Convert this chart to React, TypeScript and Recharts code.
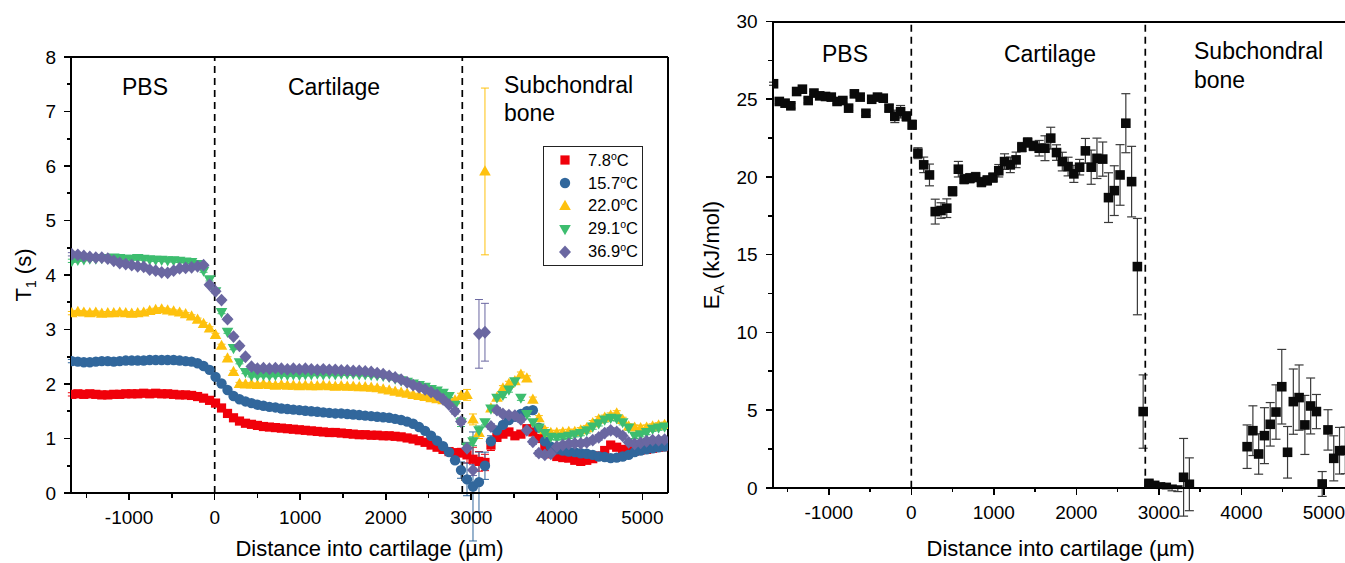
import React from 'react';
import {
  ScatterChart,
  Scatter,
  XAxis,
  YAxis,
  ErrorBar,
  ReferenceLine,
  Legend,
  Customized,
  Label,
} from 'recharts';

// Sampling positions along the depth profile (µm)
const DISTANCE_UM = [
  -1670, -1600, -1530, -1460, -1390, -1320, -1250, -1180, -1110, -1040,
  -970, -900, -830, -760, -690, -620, -550, -480, -410, -340,
  -270, -200, -130, -60, 10, 80, 150, 220, 290, 360,
  430, 500, 570, 640, 710, 780, 850, 920, 990, 1060,
  1130, 1200, 1270, 1340, 1410, 1480, 1550, 1620, 1690, 1760,
  1830, 1900, 1970, 2040, 2110, 2180, 2250, 2320, 2390, 2460,
  2530, 2600, 2670, 2740, 2810, 2880, 2950, 3020, 3090, 3160,
  3230, 3300, 3370, 3440, 3510, 3580, 3650, 3720, 3790, 3860,
  3930, 4000, 4070, 4140, 4210, 4280, 4350, 4420, 4490, 4560,
  4630, 4700, 4770, 4840, 4910, 4980, 5050, 5120, 5190, 5260,
];

// T1 (s) at each temperature
const T1_7_8 = [
  1.81, 1.82, 1.81, 1.82, 1.81, 1.8, 1.8, 1.81, 1.81, 1.82,
  1.82, 1.82, 1.83, 1.82, 1.83, 1.82, 1.82, 1.81, 1.8, 1.8,
  1.79, 1.77, 1.74, 1.7, 1.65, 1.56, 1.46, 1.38, 1.32, 1.28,
  1.26, 1.24, 1.22, 1.21, 1.2, 1.19, 1.18, 1.17, 1.16, 1.15,
  1.14, 1.13, 1.12, 1.11, 1.11, 1.1, 1.09, 1.08, 1.07, 1.07,
  1.06, 1.06, 1.05, 1.05, 1.04, 1.03, 1.01, 0.99, 0.96, 0.93,
  0.88, 0.84, 0.8, 0.76, 0.74, 0.74, 0.7, 0.62, 0.58, 0.56,
  0.88, 1.02, 1.08, 1.12, 1.05, 1.08, 1.18, 1.12, 1.0, 0.85,
  0.72, 0.67, 0.65, 0.64, 0.6, 0.58, 0.6, 0.63, 0.68, 0.78,
  0.88, 0.84, 0.8, 0.77, 0.77, 0.79, 0.8, 0.82, 0.84, 0.85,
];
const T1_15_7 = [
  2.42, 2.41, 2.4, 2.4, 2.41, 2.42, 2.42, 2.41, 2.42, 2.43,
  2.43, 2.43, 2.43, 2.44, 2.44, 2.44, 2.44, 2.44, 2.43, 2.42,
  2.41, 2.38, 2.33, 2.26, 2.13, 2.01, 1.89, 1.78, 1.72, 1.68,
  1.65, 1.62, 1.6, 1.58, 1.57, 1.55, 1.54, 1.53, 1.52, 1.51,
  1.5, 1.49, 1.48, 1.47, 1.46, 1.46, 1.45, 1.44, 1.43, 1.42,
  1.41, 1.4, 1.39, 1.38, 1.36, 1.34, 1.31, 1.27, 1.21, 1.14,
  1.05, 0.96, 0.86, 0.75, 0.6, 0.42, 0.25, 0.12, 0.2, 0.5,
  0.95, 1.15, 1.25, 1.34, 1.4, 1.45, 1.5, 1.52, 1.2, 0.95,
  0.85, 0.8, 0.78, 0.76, 0.75, 0.73, 0.72, 0.7, 0.67, 0.66,
  0.64, 0.65, 0.67, 0.7, 0.75, 0.78, 0.8, 0.82, 0.84, 0.85,
];
const T1_22_0 = [
  3.3, 3.32, 3.31, 3.3, 3.31, 3.29, 3.3, 3.3, 3.31, 3.3,
  3.29, 3.3, 3.31, 3.34, 3.36, 3.37, 3.35, 3.33, 3.31, 3.28,
  3.24, 3.18, 3.1, 3.02, 2.9, 2.7, 2.47, 2.22, 2.0, 1.99,
  1.99, 1.98, 1.99, 1.98, 1.97, 1.98, 1.97, 1.97, 1.96, 1.97,
  1.96, 1.96, 1.97, 1.96, 1.95, 1.96, 1.95, 1.95, 1.94, 1.94,
  1.93, 1.92, 1.9, 1.88, 1.86, 1.84, 1.82, 1.8, 1.78, 1.76,
  1.74, 1.72, 1.7, 1.68, 1.7, 1.78, 1.8, 1.35, 1.1, 5.9,
  1.55, 1.75, 1.92, 2.0, 2.05, 2.17, 2.1, 1.71, 1.37, 1.15,
  1.1, 1.1, 1.11, 1.12, 1.12, 1.15, 1.19, 1.28, 1.35, 1.38,
  1.42, 1.46, 1.34, 1.22, 1.2, 1.19, 1.2, 1.22, 1.24, 1.25,
];
const T1_29_1 = [
  4.26, 4.28, 4.29, 4.3, 4.3, 4.31, 4.31, 4.32, 4.31, 4.3,
  4.3, 4.31, 4.3, 4.29, 4.28, 4.28, 4.27, 4.27, 4.26, 4.25,
  4.24, 4.2, 4.08, 3.92, 3.7, 3.32, 2.96, 2.66, 2.4, 2.22,
  2.16, 2.16, 2.17, 2.16, 2.17, 2.18, 2.17, 2.18, 2.17, 2.18,
  2.18, 2.19, 2.18, 2.19, 2.18, 2.19, 2.19, 2.19, 2.18, 2.18,
  2.17, 2.16, 2.15, 2.13, 2.1, 2.07, 2.04, 2.01, 1.98, 1.95,
  1.91, 1.88, 1.84, 1.78, 1.62, 1.3, 0.85, 0.95, 1.15, 1.3,
  1.55, 1.75, 1.8, 1.9, 2.05, 1.75, 1.45, 1.3, 1.2, 1.1,
  1.03, 1.02, 1.03, 1.05, 1.08, 1.1, 1.15, 1.22, 1.28, 1.35,
  1.38, 1.37, 1.3, 1.2, 1.05, 1.08, 1.12, 1.18, 1.2, 1.22,
];
const T1_36_9 = [
  4.38, 4.37, 4.35, 4.33, 4.32, 4.32, 4.3, 4.26, 4.22, 4.2,
  4.18, 4.16, 4.15, 4.1, 4.08, 4.05, 4.04, 4.08, 4.12, 4.13,
  4.14, 4.16, 4.18, 3.82, 3.7, 3.54, 3.19, 2.87, 2.7, 2.5,
  2.32, 2.28, 2.29, 2.28, 2.29, 2.28, 2.27, 2.28, 2.27, 2.28,
  2.27, 2.26, 2.27, 2.26, 2.26, 2.25, 2.25, 2.24, 2.24, 2.23,
  2.22, 2.2, 2.18, 2.15, 2.12, 2.08, 2.03, 1.98, 1.94, 1.9,
  1.85, 1.8, 1.72, 1.62, 1.5, 1.31, 0.82, 0.42, 2.92, 2.95,
  1.22, 1.52, 1.45, 1.43, 1.42, 1.35, 1.15, 0.94, 0.73, 0.7,
  0.72, 0.85, 0.88, 0.9, 0.91, 0.91, 0.93, 0.97, 1.02, 1.1,
  1.15, 1.12, 1.05, 0.93, 0.9, 0.92, 0.95, 0.97, 0.97, 0.98,
];

// Fit uncertainties of T1 (s)
const T1_ERR_7_8 = [
  0.03, 0.03, 0.03, 0.03, 0.03, 0.03, 0.03, 0.03, 0.03, 0.03,
  0.03, 0.03, 0.03, 0.03, 0.03, 0.03, 0.03, 0.03, 0.03, 0.03,
  0.03, 0.03, 0.03, 0.03, 0.03, 0.03, 0.03, 0.03, 0.03, 0.03,
  0.03, 0.03, 0.03, 0.03, 0.03, 0.03, 0.03, 0.03, 0.03, 0.03,
  0.03, 0.03, 0.03, 0.03, 0.03, 0.03, 0.03, 0.03, 0.03, 0.03,
  0.03, 0.03, 0.03, 0.03, 0.03, 0.03, 0.03, 0.03, 0.03, 0.03,
  0.03, 0.03, 0.03, 0.03, 0.05, 0.08, 0.15, 0.22, 0.18, 0.15,
  0.1, 0.05, 0.05, 0.05, 0.05, 0.05, 0.05, 0.05, 0.05, 0.05,
  0.05, 0.05, 0.05, 0.05, 0.05, 0.05, 0.05, 0.05, 0.05, 0.05,
  0.05, 0.05, 0.05, 0.05, 0.05, 0.05, 0.05, 0.05, 0.05, 0.05,
];
const T1_ERR_15_7 = [
  0.03, 0.03, 0.03, 0.03, 0.03, 0.03, 0.03, 0.03, 0.03, 0.03,
  0.03, 0.03, 0.03, 0.03, 0.03, 0.03, 0.03, 0.03, 0.03, 0.03,
  0.03, 0.03, 0.03, 0.03, 0.03, 0.03, 0.03, 0.03, 0.03, 0.03,
  0.03, 0.03, 0.03, 0.03, 0.03, 0.03, 0.03, 0.03, 0.03, 0.03,
  0.03, 0.03, 0.03, 0.03, 0.03, 0.03, 0.03, 0.03, 0.03, 0.03,
  0.03, 0.03, 0.03, 0.03, 0.03, 0.03, 0.03, 0.03, 0.03, 0.03,
  0.03, 0.03, 0.03, 0.03, 0.06, 0.15, 0.3, 1.0, 0.55, 0.25,
  0.1, 0.05, 0.05, 0.05, 0.05, 0.05, 0.05, 0.05, 0.05, 0.05,
  0.05, 0.05, 0.05, 0.05, 0.05, 0.05, 0.05, 0.05, 0.05, 0.05,
  0.05, 0.05, 0.05, 0.05, 0.05, 0.05, 0.05, 0.05, 0.05, 0.05,
];
const T1_ERR_22_0 = [
  0.03, 0.03, 0.03, 0.03, 0.03, 0.03, 0.03, 0.03, 0.03, 0.03,
  0.03, 0.03, 0.03, 0.03, 0.03, 0.03, 0.03, 0.03, 0.03, 0.03,
  0.03, 0.03, 0.03, 0.03, 0.03, 0.03, 0.03, 0.03, 0.03, 0.03,
  0.03, 0.03, 0.03, 0.03, 0.03, 0.03, 0.03, 0.03, 0.03, 0.03,
  0.03, 0.03, 0.03, 0.03, 0.03, 0.03, 0.03, 0.03, 0.03, 0.03,
  0.03, 0.03, 0.03, 0.03, 0.03, 0.03, 0.03, 0.03, 0.03, 0.03,
  0.03, 0.03, 0.03, 0.03, 0.03, 0.05, 0.1, 0.1, 0.1, 1.53,
  0.05, 0.05, 0.05, 0.05, 0.05, 0.05, 0.05, 0.05, 0.05, 0.05,
  0.05, 0.05, 0.05, 0.05, 0.05, 0.05, 0.05, 0.05, 0.05, 0.05,
  0.05, 0.05, 0.05, 0.05, 0.05, 0.05, 0.05, 0.05, 0.05, 0.05,
];
const T1_ERR_29_1 = [
  0.03, 0.03, 0.03, 0.03, 0.03, 0.03, 0.03, 0.03, 0.03, 0.03,
  0.03, 0.03, 0.03, 0.03, 0.03, 0.03, 0.03, 0.03, 0.03, 0.03,
  0.03, 0.03, 0.03, 0.03, 0.03, 0.03, 0.03, 0.03, 0.03, 0.03,
  0.03, 0.03, 0.03, 0.03, 0.03, 0.03, 0.03, 0.03, 0.03, 0.03,
  0.03, 0.03, 0.03, 0.03, 0.03, 0.03, 0.03, 0.03, 0.03, 0.03,
  0.03, 0.03, 0.03, 0.03, 0.03, 0.03, 0.03, 0.03, 0.03, 0.03,
  0.03, 0.03, 0.03, 0.03, 0.08, 0.08, 0.08, 0.08, 0.08, 0.05,
  0.05, 0.05, 0.05, 0.05, 0.05, 0.05, 0.05, 0.05, 0.05, 0.05,
  0.05, 0.05, 0.05, 0.05, 0.05, 0.05, 0.05, 0.05, 0.05, 0.05,
  0.05, 0.05, 0.05, 0.05, 0.05, 0.05, 0.05, 0.05, 0.05, 0.05,
];
const T1_ERR_36_9 = [
  0.03, 0.03, 0.03, 0.03, 0.03, 0.03, 0.03, 0.03, 0.03, 0.03,
  0.03, 0.03, 0.03, 0.03, 0.03, 0.03, 0.03, 0.03, 0.03, 0.03,
  0.03, 0.03, 0.03, 0.03, 0.03, 0.03, 0.03, 0.03, 0.03, 0.03,
  0.03, 0.03, 0.03, 0.03, 0.03, 0.03, 0.03, 0.03, 0.03, 0.03,
  0.03, 0.03, 0.03, 0.03, 0.03, 0.03, 0.03, 0.03, 0.03, 0.03,
  0.03, 0.03, 0.03, 0.03, 0.03, 0.03, 0.03, 0.03, 0.03, 0.03,
  0.03, 0.03, 0.03, 0.03, 0.05, 0.05, 0.1, 0.1, 0.63, 0.53,
  0.05, 0.05, 0.05, 0.05, 0.05, 0.05, 0.05, 0.05, 0.05, 0.05,
  0.05, 0.05, 0.05, 0.05, 0.05, 0.05, 0.05, 0.05, 0.05, 0.05,
  0.05, 0.05, 0.05, 0.05, 0.05, 0.05, 0.05, 0.05, 0.05, 0.05,
];

// Activation energy E_A (kJ/mol) and its uncertainty; null = no valid fit
const EA_KJ_MOL: (number | null)[] = [
  26.0, 24.86, 24.75, 24.58, 25.5, 25.65, 24.92, 25.4, 25.22, 25.18,
  25.14, 24.86, 24.92, 24.43, 25.35, 25.14, 24.1, 25.0, 25.14, 25.07,
  24.43, 23.9, 24.2, 23.9, 23.36, 21.53, 20.78, 20.13, 17.77, 17.84,
  17.99, 19.08, 20.5, 19.86, 19.92, 19.99, 19.67, 19.78, 19.96, 20.4,
  20.99, 20.78, 21.1, 21.92, 22.22, 22.0, 21.85, 21.85, 22.5, 21.57,
  20.99, 20.67, 20.2, 20.63, 21.68, 20.63, 21.2, 21.15, 18.67, 19.12,
  20.13, 23.46, 19.7, 14.23, 4.9, 0.28, 0.15, 0.05, 0.02, -0.1,
  -0.15, 0.67, 0.22, null, null, null, null, null, null, null,
  null, null, 2.64, 3.67, 2.17, 3.35, 4.08, 4.87, 6.5, 2.28,
  5.54, 5.8, 4.04, 5.26, 4.9, 0.24, 3.72, 1.89, 2.38, 2.4,
];
const EA_ERR = [
  0.1, 0.15, 0.15, 0.15, 0.15, 0.1, 0.15, 0.1, 0.1, 0.1,
  0.1, 0.15, 0.15, 0.15, 0.1, 0.1, 0.15, 0.1, 0.1, 0.15,
  0.2, 0.4, 0.4, 0.3, 0.3, 0.35, 0.5, 0.7, 0.8, 0.5,
  0.6, 0.3, 0.5, 0.3, 0.3, 0.3, 0.3, 0.3, 0.3, 0.4,
  0.5, 0.5, 0.5, 0.3, 0.3, 0.3, 0.5, 0.8, 0.7, 0.5,
  0.6, 0.6, 0.55, 0.5, 0.8, 1.1, 1.3, 1.1, 1.6, 1.6,
  1.95, 1.9, 2.27, 3.1, 2.36, 0.2, 0.1, 0.1, 0.1, 0.1,
  0.1, 2.5, 1.7, 0, 0, 0, 0, 0, 0, 0,
  0, 0, 1.4, 1.6, 1.3, 1.8, 1.4, 1.75, 2.4, 1.66,
  2.1, 2.1, 1.9, 1.8, 1.1, 0.8, 1.3, 1.45, 1.5, 1.5,
];

const TEMPERATURES = ['7.8', '15.7', '22.0', '29.1', '36.9'];
const X_TICKS = [-1500, -1000, -500, 0, 500, 1000, 1500, 2000, 2500, 3000, 3500, 4000, 4500, 5000];
const T1_TICKS = [0, 0.5, 1, 1.5, 2, 2.5, 3, 3.5, 4, 4.5, 5, 5.5, 6, 6.5, 7, 7.5, 8];
const EA_TICKS = [0, 2.5, 5, 7.5, 10, 12.5, 15, 17.5, 20, 22.5, 25, 27.5, 30];
const X_DOMAIN: [number, number] = [-1680, 5300];
const T1_DOMAIN: [number, number] = [0, 8];
const EA_DOMAIN: [number, number] = [0, 30];
const LEFT_BOUNDARIES = [0, 2895];
const RIGHT_BOUNDARIES = [0, 2836];

const FONT = '"Liberation Sans", Arial, Helvetica, sans-serif';
const INK = '#000';
const COLORS = ['#f0000a', '#31679c', '#fec10e', '#3dbd6f', '#6a67a1'];

type Row = { x: number; y: number; e: number };
const buildRows = (ys: (number | null)[], errs: number[]): Row[] =>
  DISTANCE_UM.map((x, i) => ({ x, y: ys[i] as number, e: errs[i] })).filter(
    (r) => r.y !== null && r.y !== undefined
  );

const T1_SERIES = [
  buildRows(T1_7_8, T1_ERR_7_8),
  buildRows(T1_15_7, T1_ERR_15_7),
  buildRows(T1_22_0, T1_ERR_22_0),
  buildRows(T1_29_1, T1_ERR_29_1),
  buildRows(T1_36_9, T1_ERR_36_9),
];
const EA_ROWS = buildRows(EA_KJ_MOL, EA_ERR);

// ---- marker glyphs ----
type Glyph = (cx: number, cy: number, fill: string) => React.ReactElement;
const GLYPHS: Glyph[] = [
  (cx, cy, f) => <rect x={cx - 4.6} y={cy - 4.6} width={9.2} height={9.2} fill={f} />,
  (cx, cy, f) => <circle cx={cx} cy={cy} r={5.2} fill={f} />,
  (cx, cy, f) => (
    <polygon points={`${cx},${cy - 6.2} ${cx + 5.8},${cy + 4} ${cx - 5.8},${cy + 4}`} fill={f} />
  ),
  (cx, cy, f) => (
    <polygon points={`${cx},${cy + 6.2} ${cx + 5.8},${cy - 4} ${cx - 5.8},${cy - 4}`} fill={f} />
  ),
  (cx, cy, f) => (
    <polygon points={`${cx},${cy - 6.4} ${cx + 6},${cy} ${cx},${cy + 6.4} ${cx - 6},${cy}`} fill={f} />
  ),
];
const glyphShape = (idx: number, color: string) => (p: any) => {
  if (p.cx == null || p.cy == null || isNaN(p.cx) || isNaN(p.cy)) return <g />;
  return GLYPHS[idx](p.cx, p.cy, color);
};
const blackSquare = (p: any) => {
  if (p.cx == null || p.cy == null || isNaN(p.cx) || isNaN(p.cy)) return <g />;
  return <rect x={p.cx - 4.8} y={p.cy - 4.8} width={9.6} height={9.6} fill="#0a0a0a" />;
};

// ---- axis ticks with major/minor lengths ----
type Side = 'bottom' | 'top' | 'left' | 'right';
const makeTick =
  (side: Side, isMajor: (v: number) => boolean, showLabel: boolean, inward: boolean, labelGap: number) =>
  (props: any) => {
    const { x, y, payload } = props;
    const v = payload.value as number;
    const major = isMajor(v);
    const len = major ? 7 : 4.5;
    const d = inward ? -1 : 1;
    let x2 = x;
    let y2 = y;
    if (side === 'bottom') y2 = y + d * len;
    if (side === 'top') y2 = y - d * len;
    if (side === 'left') x2 = x - d * len;
    if (side === 'right') x2 = x + d * len;
    return (
      <g>
        <line x1={x} y1={y} x2={x2} y2={y2} stroke={INK} strokeWidth={1.6} shapeRendering="crispEdges" />
        {showLabel && major && side === 'bottom' && (
          <text x={x} y={y + labelGap} textAnchor="middle" fontFamily={FONT} fontSize={19} fill={INK}>
            {v}
          </text>
        )}
        {showLabel && major && side === 'left' && (
          <text x={x - labelGap} y={y} dy="0.36em" textAnchor="end" fontFamily={FONT} fontSize={19} fill={INK}>
            {v}
          </text>
        )}
      </g>
    );
  };

const isThousand = (v: number) => Math.abs(v % 1000) < 1e-6;
const isInteger = (v: number) => Math.abs(v - Math.round(v)) < 1e-6;
const isFive = (v: number) => Math.abs(v % 5) < 1e-6;

const xTitle = (dy: number) => (p: any) => {
  const vb = p.viewBox;
  return (
    <text x={vb.x + vb.width / 2} y={vb.y + dy} textAnchor="middle" fontFamily={FONT} fontSize={22} fill={INK}>
      Distance into cartilage (µm)
    </text>
  );
};

const T1Title = () => (
  <text transform="translate(31,275) rotate(-90)" textAnchor="middle" fontFamily={FONT} fontSize={22} fill={INK}>
    T<tspan fontSize={14} dy={5}>1</tspan>
    <tspan dy={-5}> (s)</tspan>
  </text>
);

const EATitle = () => (
  <text transform="translate(719,255) rotate(-90)" textAnchor="middle" fontFamily={FONT} fontSize={22} fill={INK}>
    E<tspan fontSize={14} dy={5}>A</tspan>
    <tspan dy={-5}> (kJ/mol)</tspan>
  </text>
);

const regionText = (x: number, y: number, text: string, anchor: 'start' | 'middle' = 'middle') => (
  <text x={x} y={y} textAnchor={anchor} fontFamily={FONT} fontSize={23} fill={INK}>
    {text}
  </text>
);

const LeftRegions = () => (
  <g>
    {regionText(145, 95, 'PBS')}
    {regionText(334, 95, 'Cartilage')}
    {regionText(504, 93, 'Subchondral', 'start')}
    {regionText(504, 121, 'bone', 'start')}
    <T1Title />
  </g>
);

const RightRegions = () => (
  <g>
    {regionText(845 - 690, 62, 'PBS')}
    {regionText(1050 - 690, 62, 'Cartilage')}
    {regionText(1194 - 690, 59, 'Subchondral', 'start')}
    {regionText(1194 - 690, 88, 'bone', 'start')}
  </g>
);

const TemperatureLegend = (props: any) => {
  const payload = props.payload || [];
  return (
    <div
      style={{
        border: '1px solid #222',
        background: '#fff',
        padding: '2px 0',
        fontFamily: FONT,
        fontSize: 16.5,
        color: INK,
        boxSizing: 'border-box',
        width: 100,
      }}
    >
      {payload.map((entry: any, i: number) => (
        <div key={i} style={{ display: 'flex', alignItems: 'center', height: 22.8 }}>
          <svg width={44} height={20} style={{ display: 'block' }}>
            {GLYPHS[i](21, 10, COLORS[i])}
          </svg>
          <span style={{ whiteSpace: 'nowrap' }}>
            {TEMPERATURES[i]}
            <sup style={{ fontSize: 10.5, verticalAlign: 'top', lineHeight: '10px' }}>o</sup>C
          </span>
        </div>
      ))}
    </div>
  );
};

// Box frame around a plot area, drawn on the domain edges
const frame = (xd: [number, number], yd: [number, number]) => [
  <ReferenceLine key="fl" x={xd[0]} stroke={INK} strokeWidth={2} shapeRendering="crispEdges" ifOverflow="visible" />,
  <ReferenceLine key="fr" x={xd[1]} stroke={INK} strokeWidth={2} shapeRendering="crispEdges" ifOverflow="visible" />,
  <ReferenceLine key="fb" y={yd[0]} stroke={INK} strokeWidth={2} shapeRendering="crispEdges" ifOverflow="visible" />,
  <ReferenceLine key="ft" y={yd[1]} stroke={INK} strokeWidth={2} shapeRendering="crispEdges" ifOverflow="visible" />,
];

const T1Chart = () => (
  <ScatterChart width={680} height={563} margin={{ top: 57, right: 12, bottom: 0, left: 0 }}>
    <XAxis
      type="number"
      dataKey="x"
      domain={X_DOMAIN}
      allowDataOverflow
      ticks={X_TICKS}
      interval={0}
      height={70}
      tickSize={0}
      tickMargin={0}
      tickLine={false}
      axisLine={false}
      tick={makeTick('bottom', isThousand, true, false, 31)}
    >
      <Label content={xTitle(63)} />
    </XAxis>
    <XAxis
      xAxisId="top"
      orientation="top"
      type="number"
      domain={X_DOMAIN}
      allowDataOverflow
      ticks={X_TICKS}
      interval={0}
      height={0}
      tickSize={0}
      tickMargin={0}
      tickLine={false}
      axisLine={false}
      tick={makeTick('top', isThousand, false, true, 0)}
    />
    <YAxis
      type="number"
      dataKey="y"
      domain={T1_DOMAIN}
      allowDataOverflow
      ticks={T1_TICKS}
      interval={0}
      width={71}
      tickSize={0}
      tickMargin={0}
      tickLine={false}
      axisLine={false}
      tick={makeTick('left', isInteger, true, false, 15)}
    />
    <YAxis
      yAxisId="right"
      orientation="right"
      type="number"
      domain={T1_DOMAIN}
      allowDataOverflow
      ticks={T1_TICKS}
      interval={0}
      width={0}
      tickSize={0}
      tickMargin={0}
      tickLine={false}
      axisLine={false}
      tick={makeTick('right', isInteger, false, true, 0)}
    />
    {T1_SERIES.map((rows, i) => (
      <Scatter
        key={TEMPERATURES[i]}
        name={`${TEMPERATURES[i]} °C`}
        data={rows}
        fill={COLORS[i]}
        shape={glyphShape(i, COLORS[i])}
        isAnimationActive={false}
      >
        <ErrorBar dataKey="e" direction="y" width={4} stroke={COLORS[i]} strokeWidth={1} isAnimationActive={false} />
      </Scatter>
    ))}
    {LEFT_BOUNDARIES.map((b) => (
      <ReferenceLine key={b} x={b} stroke={INK} strokeWidth={1.7} strokeDasharray="7 5" />
    ))}
    {frame(X_DOMAIN, T1_DOMAIN)}
    <Legend
      layout="vertical"
      align="center"
      verticalAlign="middle"
      wrapperStyle={{ left: 543, top: 146, width: 100 }}
      content={TemperatureLegend}
    />
    <Customized component={LeftRegions} />
  </ScatterChart>
);

const EAChart = () => (
  <ScatterChart width={680} height={563} margin={{ top: 21.6, right: 21.4, bottom: 5.3, left: 0 }}>
    <XAxis
      type="number"
      dataKey="x"
      domain={X_DOMAIN}
      allowDataOverflow
      ticks={X_TICKS}
      interval={0}
      height={70}
      tickSize={0}
      tickMargin={0}
      tickLine={false}
      axisLine={false}
      tick={makeTick('bottom', isThousand, true, false, 31)}
    >
      <Label content={xTitle(68)} />
    </XAxis>
    <XAxis
      xAxisId="top"
      orientation="top"
      type="number"
      domain={X_DOMAIN}
      allowDataOverflow
      ticks={X_TICKS}
      interval={0}
      height={0}
      tickSize={0}
      tickMargin={0}
      tickLine={false}
      axisLine={false}
      tick={makeTick('top', isThousand, false, true, 0)}
    />
    <YAxis
      type="number"
      dataKey="y"
      domain={EA_DOMAIN}
      allowDataOverflow
      ticks={EA_TICKS}
      interval={0}
      width={82.7}
      tickSize={0}
      tickMargin={0}
      tickLine={false}
      axisLine={false}
      tick={makeTick('left', isFive, true, false, 15)}
    />
    <YAxis
      yAxisId="right"
      orientation="right"
      type="number"
      domain={EA_DOMAIN}
      allowDataOverflow
      ticks={EA_TICKS}
      interval={0}
      width={0}
      tickSize={0}
      tickMargin={0}
      tickLine={false}
      axisLine={false}
      tick={makeTick('right', isFive, false, true, 0)}
    />
    <Scatter name="E_A" data={EA_ROWS} fill="#0a0a0a" shape={blackSquare} isAnimationActive={false}>
      <ErrorBar dataKey="e" direction="y" width={4.5} stroke="#3a3a3a" strokeWidth={1.2} isAnimationActive={false} />
    </Scatter>
    {RIGHT_BOUNDARIES.map((b) => (
      <ReferenceLine key={b} x={b} stroke={INK} strokeWidth={1.7} strokeDasharray="7 5" />
    ))}
    {frame(X_DOMAIN, EA_DOMAIN)}
    <Customized component={RightRegions} />
  </ScatterChart>
);

export default function App() {
  return (
    <div
      style={{
        position: 'absolute',
        left: 0,
        top: 0,
        width: 1345,
        height: 563,
        overflow: 'hidden',
        background: '#fff',
        fontFamily: FONT,
      }}
    >
      <div style={{ position: 'absolute', left: 0, top: 0 }}>
        <T1Chart />
      </div>
      <div style={{ position: 'absolute', left: 690, top: 0 }}>
        <EAChart />
      </div>
      <svg width={1345} height={563} style={{ position: 'absolute', left: 0, top: 0, pointerEvents: 'none' }}>
        <EATitle />
      </svg>
    </div>
  );
}
